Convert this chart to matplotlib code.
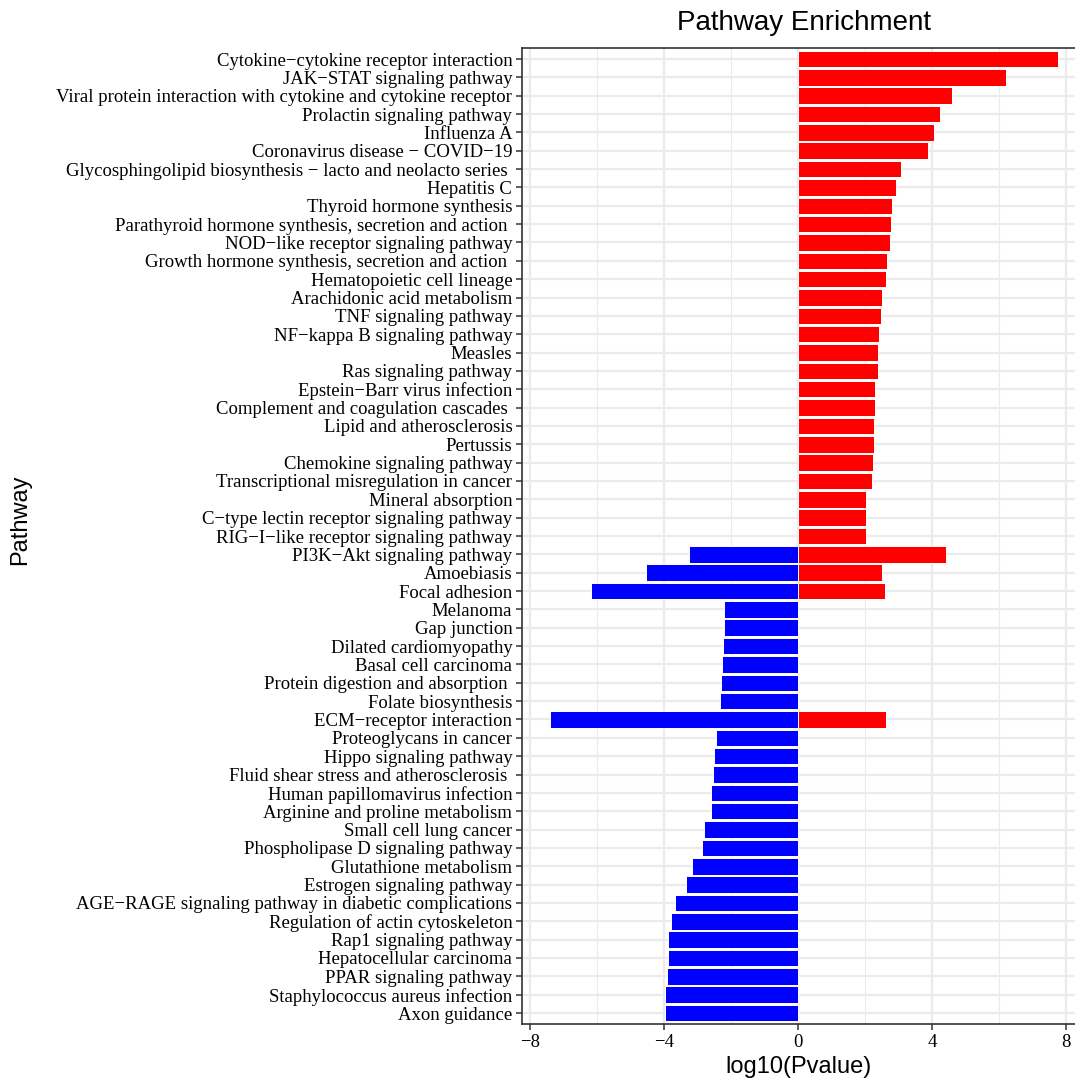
import matplotlib
matplotlib.use('Agg')
import matplotlib.pyplot as plt
import numpy as np

pathways = [
    'Cytokine−cytokine receptor interaction',
    'JAK−STAT signaling pathway',
    'Viral protein interaction with cytokine and cytokine receptor',
    'Prolactin signaling pathway',
    'Influenza A',
    'Coronavirus disease − COVID−19',
    'Glycosphingolipid biosynthesis − lacto and neolacto series ',
    'Hepatitis C',
    'Thyroid hormone synthesis',
    'Parathyroid hormone synthesis, secretion and action ',
    'NOD−like receptor signaling pathway',
    'Growth hormone synthesis, secretion and action ',
    'Hematopoietic cell lineage',
    'Arachidonic acid metabolism',
    'TNF signaling pathway',
    'NF−kappa B signaling pathway',
    'Measles',
    'Ras signaling pathway',
    'Epstein−Barr virus infection',
    'Complement and coagulation cascades ',
    'Lipid and atherosclerosis',
    'Pertussis',
    'Chemokine signaling pathway',
    'Transcriptional misregulation in cancer',
    'Mineral absorption',
    'C−type lectin receptor signaling pathway',
    'RIG−I−like receptor signaling pathway',
    'PI3K−Akt signaling pathway',
    'Amoebiasis',
    'Focal adhesion',
    'Melanoma',
    'Gap junction',
    'Dilated cardiomyopathy',
    'Basal cell carcinoma',
    'Protein digestion and absorption ',
    'Folate biosynthesis',
    'ECM−receptor interaction',
    'Proteoglycans in cancer',
    'Hippo signaling pathway',
    'Fluid shear stress and atherosclerosis ',
    'Human papillomavirus infection',
    'Arginine and proline metabolism',
    'Small cell lung cancer',
    'Phospholipase D signaling pathway',
    'Glutathione metabolism',
    'Estrogen signaling pathway',
    'AGE−RAGE signaling pathway in diabetic complications',
    'Regulation of actin cytoskeleton',
    'Rap1 signaling pathway',
    'Hepatocellular carcinoma',
    'PPAR signaling pathway',
    'Staphylococcus aureus infection',
    'Axon guidance',
]

# up-regulated (red) log10 values, 0 = none
up_vals = [7.78, 6.22, 4.60, 4.25, 4.07, 3.89, 3.08, 2.93, 2.81, 2.78,
           2.75, 2.66, 2.63, 2.51, 2.48, 2.42, 2.39, 2.39, 2.30, 2.30,
           2.27, 2.27, 2.24, 2.21, 2.03, 2.03, 2.03, 4.43, 2.51, 2.60,
           0, 0, 0, 0, 0, 0, 2.63, 0, 0, 0,
           0, 0, 0, 0, 0, 0, 0, 0, 0, 0,
           0, 0, 0]
# down-regulated (blue) log10 values, 0 = none
down_vals = [0, 0, 0, 0, 0, 0, 0, 0, 0, 0,
             0, 0, 0, 0, 0, 0, 0, 0, 0, 0,
             0, 0, 0, 0, 0, 0, 0, -3.26, -4.55, -6.19,
             -2.21, -2.21, -2.24, -2.27, -2.30, -2.33, -7.42, -2.45, -2.51, -2.54,
             -2.60, -2.60, -2.81, -2.87, -3.17, -3.35, -3.68, -3.80, -3.89, -3.89,
             -3.92, -3.98, -3.98]

n = len(pathways)
ypos = np.arange(n, 0, -1)

fig = plt.figure(figsize=(10.75, 10.81), dpi=100)
ax = fig.add_axes([0.4856, 0.0527, 0.5144, 0.9029])

ax.set_xlim(-8.25, 8.28)
ax.set_ylim(0.4, n + 0.6)

ax.set_xticks([-8, -4, 0, 4, 8])
ax.set_xticks([-6, -2, 2, 6], minor=True)
ax.set_xticklabels(['−8', '−4', '0', '4', '8'], fontfamily='Liberation Serif', fontsize=13.5)
ax.set_yticks(ypos)
ax.set_yticklabels(pathways, fontfamily='Liberation Serif', fontsize=13.5)

ax.grid(which='major', color='#EBEBEB', linewidth=1.6, zorder=0)
ax.grid(which='minor', axis='x', color='#EBEBEB', linewidth=0.8, zorder=0)
ax.set_axisbelow(True)

up = np.array(up_vals)
down = np.array(down_vals)
mask_u = up != 0
mask_d = down != 0
ax.barh(ypos[mask_u], up[mask_u], height=0.9, color='#FF0000', edgecolor='white', linewidth=0.7, zorder=2)
ax.barh(ypos[mask_d], down[mask_d], height=0.9, color='#0000FF', edgecolor='white', linewidth=0.7, zorder=2)

for s in ['left', 'bottom', 'top']:
    ax.spines[s].set_color('#333333')
    ax.spines[s].set_linewidth(1.2)
ax.spines['right'].set_visible(False)
ax.tick_params(axis='both', which='major', color='#333333', width=1.1, length=4, labelcolor='black', pad=3)
ax.tick_params(axis='x', which='minor', length=0)

ax.set_title('Pathway Enrichment', fontfamily='Liberation Sans', fontsize=20, x=0.51, pad=13)
ax.set_xlabel('log10(Pvalue)', fontfamily='Liberation Sans', fontsize=17, labelpad=4)
ax.set_ylabel('Pathway', fontfamily='Liberation Sans', fontsize=17)
ax.yaxis.set_label_coords(-0.888, 0.517)

fig.savefig('out.png', dpi=100)
